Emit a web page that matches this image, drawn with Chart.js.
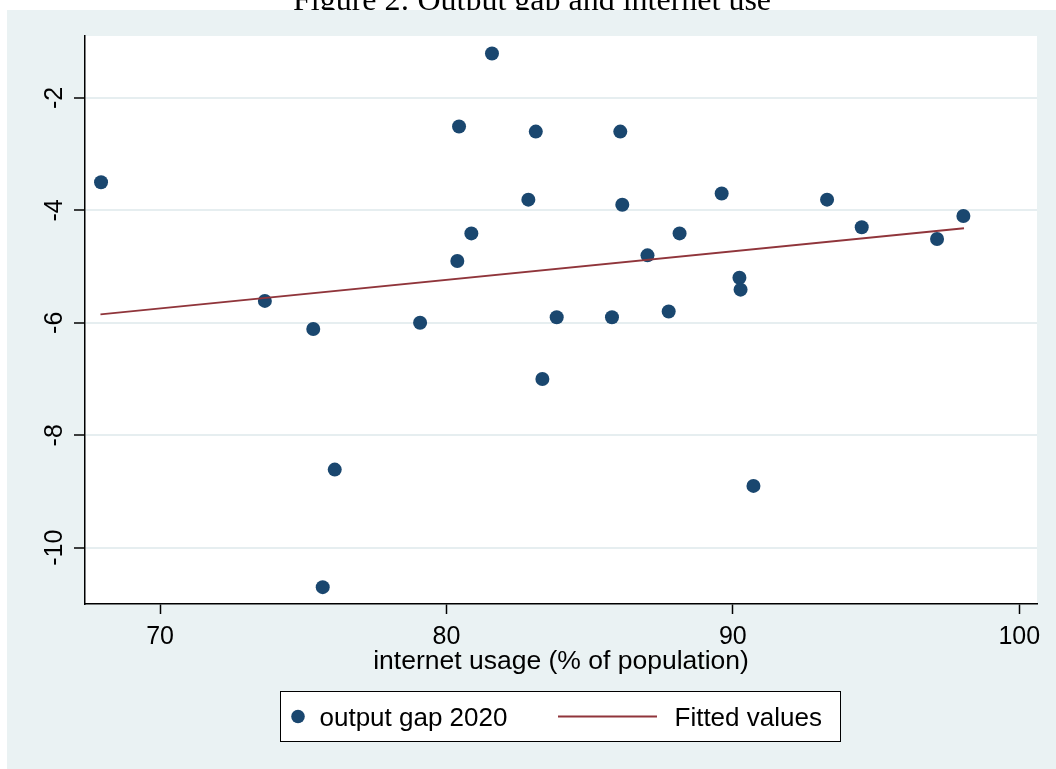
<!DOCTYPE html>
<html>
<head>
<meta charset="utf-8">
<script src="https://cdn.jsdelivr.net/npm/chart.js@4.4.1/dist/chart.umd.min.js"></script>
<style>
  html, body { margin: 0; padding: 0; background: #fff; }
  canvas { display: block; }
</style>
</head>
<body>
<canvas id="c" width="1056" height="769"></canvas>
<script>
// Internet usage (% of population) and 2020 output gap, one entry per country
const internetUsage = [67.94, 73.66, 75.35, 76.10, 75.68, 79.08, 80.38, 80.44, 80.87, 81.59,
                       82.86, 83.12, 83.35, 83.85, 85.78, 86.07, 86.14, 87.02, 87.76, 88.14,
                       89.61, 90.23, 90.27, 90.72, 93.29, 94.50, 97.13, 98.05];
const outputGap     = [-3.50, -5.61, -6.11, -8.61, -10.70, -6.00, -4.90, -2.51, -4.41, -1.21,
                       -3.81, -2.60, -7.00, -5.90, -5.90, -2.60, -3.90, -4.80, -5.80, -4.41,
                       -3.70, -5.20, -5.41, -8.90, -3.81, -4.30, -4.51, -4.10];

// Fitted regression line, end points
const fittedX = [67.92, 98.07];
const fittedY = [-5.85, -4.32];

const xTicks = [70, 80, 90, 100];
const yTicks = [-10, -8, -6, -4, -2];

const chartTitle = 'Figure 2: Output gap and internet use';
const xTitle = 'internet usage (% of population)';
const seriesNames = ['output gap 2020', 'Fitted values'];

const NAVY = '#1a476f';
const MAROON = '#90353b';
const REGION = '#eaf2f3';
const SANS = '"Liberation Sans", Arial, sans-serif';

// Page background, title, graph region and white plot area
const backdrop = {
  id: 'backdrop',
  beforeDraw(chart) {
    const { ctx, width, height, chartArea: a } = chart;
    ctx.save();
    ctx.fillStyle = '#fff';
    ctx.fillRect(0, 0, width, height);
    ctx.fillStyle = '#000';
    ctx.font = '32px "Liberation Serif", "Times New Roman", serif';
    ctx.textAlign = 'center';
    ctx.textBaseline = 'alphabetic';
    ctx.fillText(chartTitle, 532, 10);
    ctx.fillStyle = REGION;
    ctx.fillRect(7, 10, width - 7, height - 10);
    ctx.fillStyle = '#fff';
    ctx.fillRect(a.left, a.top, a.right - a.left, a.bottom - a.top);
    ctx.restore();
  }
};

// Vertical (rotated) y tick labels
const rotatedYLabels = {
  id: 'rotatedYLabels',
  afterDraw(chart) {
    const { ctx } = chart;
    const y = chart.scales.y;
    ctx.save();
    ctx.fillStyle = '#000';
    ctx.font = '25px ' + SANS;
    ctx.textAlign = 'center';
    ctx.textBaseline = 'alphabetic';
    y.ticks.forEach(t => {
      const py = y.getPixelForValue(t.value);
      ctx.save();
      ctx.translate(62, py);
      ctx.rotate(-Math.PI / 2);
      ctx.fillText(String(t.value), 0, 0);
      ctx.restore();
    });
    ctx.restore();
  }
};

// Boxed legend below the axis title
const boxedLegend = {
  id: 'boxedLegend',
  afterDraw(chart) {
    const { ctx } = chart;
    const scatterDs = chart.data.datasets[1];
    const lineDs = chart.data.datasets[0];
    ctx.save();
    ctx.fillStyle = '#fff';
    ctx.fillRect(280, 691, 560, 50);
    ctx.strokeStyle = '#000';
    ctx.lineWidth = 1;
    ctx.strokeRect(280.5, 691.5, 560, 50);
    ctx.fillStyle = scatterDs.backgroundColor;
    ctx.beginPath();
    ctx.arc(298, 716.5, 6.8, 0, Math.PI * 2);
    ctx.fill();
    ctx.strokeStyle = lineDs.borderColor;
    ctx.lineWidth = 2;
    ctx.beginPath();
    ctx.moveTo(558, 716.5);
    ctx.lineTo(657, 716.5);
    ctx.stroke();
    ctx.fillStyle = '#000';
    ctx.font = '26px ' + SANS;
    ctx.textAlign = 'left';
    ctx.textBaseline = 'alphabetic';
    ctx.fillText(scatterDs.label, 319.5, 726);
    ctx.fillText(lineDs.label, 674.5, 726);
    ctx.restore();
  }
};

new Chart(document.getElementById('c'), {
  type: 'scatter',
  data: {
    datasets: [
      {
        label: seriesNames[1],
        data: fittedX.map((x, i) => ({ x, y: fittedY[i] })),
        showLine: true,
        borderColor: MAROON,
        backgroundColor: MAROON,
        borderWidth: 2,
        pointRadius: 0,
        order: 0
      },
      {
        label: seriesNames[0],
        data: internetUsage.map((x, i) => ({ x, y: outputGap[i] })),
        backgroundColor: NAVY,
        borderColor: NAVY,
        borderWidth: 0,
        pointRadius: 7,
        order: 1
      }
    ]
  },
  options: {
    responsive: false,
    animation: false,
    layout: { padding: { left: 0, top: 36, right: 19, bottom: 91 } },
    plugins: {
      legend: { display: false },
      tooltip: { enabled: false },
      title: { display: false }
    },
    scales: {
      x: {
        type: 'linear',
        position: 'bottom',
        min: 67.38,
        max: 100.62,
        afterBuildTicks: s => { s.ticks = xTicks.map(v => ({ value: v })); },
        afterFit: s => { s.height = 74; },
        border: { display: true, color: '#000', width: 1.5 },
        grid: { drawOnChartArea: false, drawTicks: true, tickLength: 10, tickColor: '#000', tickWidth: 1.5 },
        ticks: {
          color: '#000',
          font: { family: SANS, size: 25 },
          padding: 8,
          maxRotation: 0,
          autoSkip: false
        },
        title: {
          display: true,
          text: xTitle,
          color: '#000',
          font: { family: SANS, size: 26.5 },
          padding: 0
        }
      },
      y: {
        type: 'linear',
        min: -11.0,
        max: -0.9,
        afterBuildTicks: s => { s.ticks = yTicks.map(v => ({ value: v })); },
        afterFit: s => { s.width = 85; },
        border: { display: true, color: '#000', width: 1.5 },
        grid: { color: '#e6eef0', lineWidth: 2, drawTicks: true, tickLength: 11, tickColor: '#000', tickWidth: 1.5 },
        ticks: { display: false }
      }
    }
  },
  plugins: [backdrop, rotatedYLabels, boxedLegend]
});
</script>
</body>
</html>
